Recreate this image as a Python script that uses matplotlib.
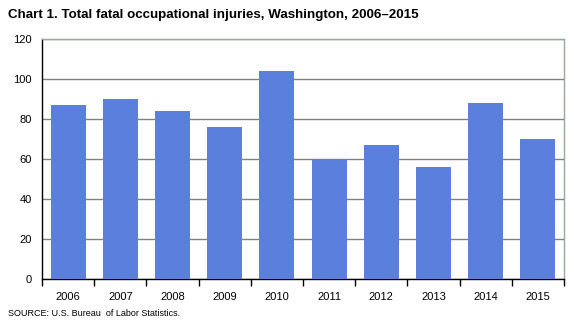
import matplotlib
matplotlib.use("Agg")
import matplotlib.pyplot as plt
from matplotlib.ticker import MultipleLocator, FixedLocator

plt.rcParams['font.family'] = ['Liberation Sans', 'DejaVu Sans']

years = ['2006', '2007', '2008', '2009', '2010', '2011', '2012', '2013', '2014', '2015']
fatal_injuries = [87, 90, 84, 76, 104, 60, 67, 56, 88, 70]

fig = plt.figure(figsize=(5.74, 3.24), dpi=100)
ax = fig.add_axes([42 / 574, 1 - 279 / 324, (564 - 42) / 574, (279 - 39) / 324])

x = range(len(years))
ax.bar(x, fatal_injuries, width=0.67, color='#5b7fdc', zorder=3)

ax.set_xlim(-0.5, len(years) - 0.5)
ax.set_ylim(0, 120)
ax.yaxis.set_major_locator(MultipleLocator(20))
ax.yaxis.grid(True, color='#808080', linewidth=1.0, zorder=0)
ax.set_xticks(list(x))
ax.set_xticklabels(years)
ax.xaxis.set_minor_locator(FixedLocator([i - 0.5 for i in range(len(years) + 1)]))
ax.tick_params(axis='x', which='major', length=0, pad=9, labelsize=8)
ax.tick_params(axis='x', which='minor', length=5, direction='out', color='black', width=1)
ax.tick_params(axis='y', length=0, pad=7.2, labelsize=8)

ax.spines['left'].set_color('black')
ax.spines['bottom'].set_color('black')
ax.spines['top'].set_color('#98a898')
ax.spines['right'].set_color('#98a898')
for s in ax.spines.values():
    s.set_linewidth(1.0)

fig.text(8 / 574, 1 - 15 / 324, 'Chart 1. Total fatal occupational injuries, Washington, 2006\u20132015',
         fontsize=9.6, fontweight='bold', va='center', ha='left')
fig.text(8 / 574, 1 - 313 / 324, 'SOURCE: U.S. Bureau  of Labor Statistics.',
         fontsize=6.5, va='center', ha='left')

fig.savefig('out.png', dpi=100)
